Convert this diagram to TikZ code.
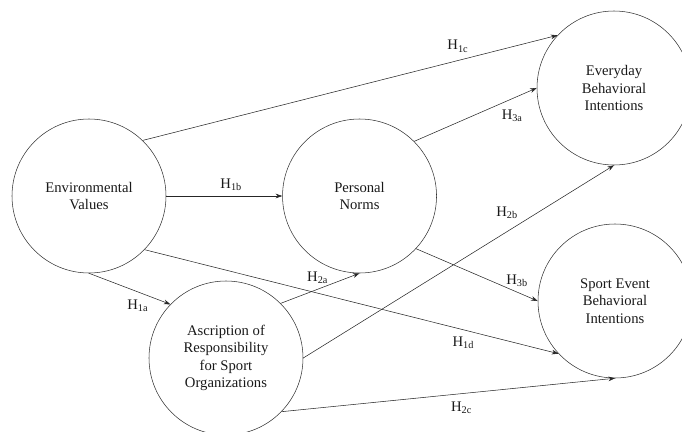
\documentclass[tikz,border=0pt]{standalone}
\usepackage{fontspec}
\setmainfont{Liberation Serif}
\usetikzlibrary{arrows.meta,positioning}

\begin{document}
\begin{tikzpicture}[
    x=0.75pt, y=-0.75pt,
    font=\fontsize{11}{13}\selectfont,
    construct/.style={circle, draw=black!80, thin, minimum size=115.5pt, inner sep=0pt, align=center, text=black!90},
    arrow/.style={-{Stealth[length=5pt,width=3.5pt]}, draw=black!85, thin},
    hyp/.style={text=black!90, inner sep=2pt}
]
    \useasboundingbox (0,0) rectangle (682,432);

    \node[construct] (env) at (89,196) {Environmental\\Values};
    \node[construct, right=87pt of env] (norms) {Personal\\Norms};
    \node[construct] (everyday) at (614,88) {Everyday\\Behavioral\\Intentions};
    \node[construct] (sport) at (615,301) {Sport Event\\Behavioral\\Intentions};
    \node[construct] (ascr) at (226,358) {Ascription of\\Responsibility\\for Sport\\Organizations};

    \draw[arrow] (env.46) -- node[hyp, pos=0.76, above=4pt] {H\textsubscript{1c}} (everyday.137);
    \draw[arrow] (env.east) -- node[hyp, pos=0.56, above=2pt] {H\textsubscript{1b}} (norms.west);
    \draw[arrow] (env.south) -- node[hyp, pos=0.6, below=4pt] {H\textsubscript{1a}} (ascr.136);
    \draw[arrow] (env.-44) -- node[hyp, pos=0.77, below=3pt] {H\textsubscript{1d}} (sport.223);
    \draw[arrow] (norms.45) -- node[hyp, pos=0.8, below=6pt] {H\textsubscript{3a}} (everyday.west);
    \draw[arrow] (norms.-43) -- node[hyp, pos=0.83, above=2pt] {H\textsubscript{3b}} (sport.west);
    \draw[arrow] (ascr.45) -- node[hyp, pos=0.47, above=2pt] {H\textsubscript{2a}} (norms.south);
    \draw[arrow] (ascr.east) -- node[hyp, pos=0.7, above left=1pt and 0pt] {H\textsubscript{2b}} (everyday.south);
    \draw[arrow] (ascr.-44) -- node[hyp, pos=0.54, below=4pt] {H\textsubscript{2c}} (sport.south);
\end{tikzpicture}
\end{document}
